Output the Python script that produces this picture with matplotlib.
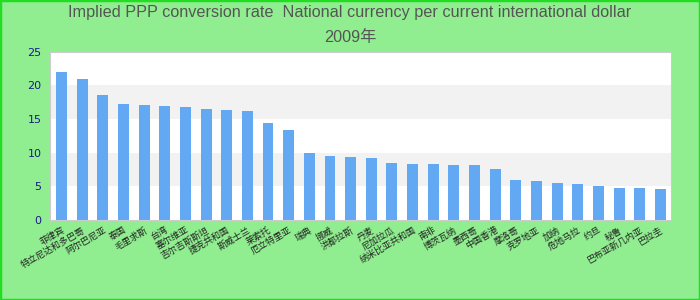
import matplotlib
matplotlib.use("Agg")
import matplotlib.pyplot as plt
from matplotlib.patches import Rectangle

# data (2009, national currency per international dollar)
countries = ["菲律宾", "特立尼达和多巴哥", "阿尔巴尼亚", "泰国", "毛里求斯", "台湾",
             "塞尔维亚", "吉尔吉斯斯坦", "捷克共和国", "斯威士兰", "莱索托", "厄立特里亚",
             "瑞典", "挪威", "洪都拉斯", "丹麦", "尼加拉瓜", "纳米比亚共和国", "南非",
             "博茨瓦纳", "墨西哥", "中国香港", "摩洛哥", "克罗地亚", "加纳",
             "危地马拉", "约旦", "秘鲁", "巴布亚新几内亚", "巴拉圭"]
ppp_rate = [22.0, 20.95, 18.57, 17.24, 17.09, 16.94, 16.79, 16.49, 16.34, 16.2,
            14.41, 13.37, 9.96, 9.51, 9.36, 9.21, 8.47, 8.32, 8.32, 8.17,
            8.17, 7.58, 5.94, 5.79, 5.5, 5.35, 5.05, 4.75, 4.75, 4.6]
y_ticks = [0, 5, 10, 15, 20, 25]

fig = plt.figure(figsize=(7, 3), dpi=100, facecolor="#90ee90")
ax = fig.add_axes([0.0714, 0.2667, 0.8867, 0.5613])
ax.set_facecolor("white")

# alternating horizontal bands
for lo in (5, 15):
    ax.axhspan(lo, lo + 5, color="#f2f2f2", zorder=0, lw=0)

x = list(range(len(ppp_rate)))
ax.bar(x, ppp_rate, width=0.53, color="#62a8f2", zorder=2)

ax.set_xlim(-0.56, 29.5)
ax.set_ylim(0, 25)
ax.set_yticks(y_ticks)
ax.tick_params(axis="y", length=0, labelsize=8, labelcolor="#1a1a8a", pad=6)
ax.set_xticks(x)
ax.set_xticklabels(countries, rotation=30, ha="right", rotation_mode="anchor",
                   fontsize=6.5, family=["Noto Sans CJK SC", "DejaVu Sans"])
ax.tick_params(axis="x", length=0, pad=4, labelcolor="#222222")
for s in ax.spines.values():
    s.set_color("#cccccc")

title_font = ["Liberation Sans", "Noto Sans CJK SC", "DejaVu Sans"]
fig.text(0.5, 1 - 13 / 300, "Implied PPP conversion rate  National currency per current international dollar",
         ha="center", va="center", fontsize=11.7, color="#555555", family=title_font)
fig.text(0.5, 1 - 37 / 300, "2009年", ha="center", va="center", fontsize=11.7,
         color="#555555", family=title_font)

fig.patches.append(Rectangle((0, 0), 1, 1, transform=fig.transFigure, fill=False,
                             edgecolor="#22dd22", linewidth=2.5))

fig.savefig("out.png", dpi=100, facecolor=fig.get_facecolor())
